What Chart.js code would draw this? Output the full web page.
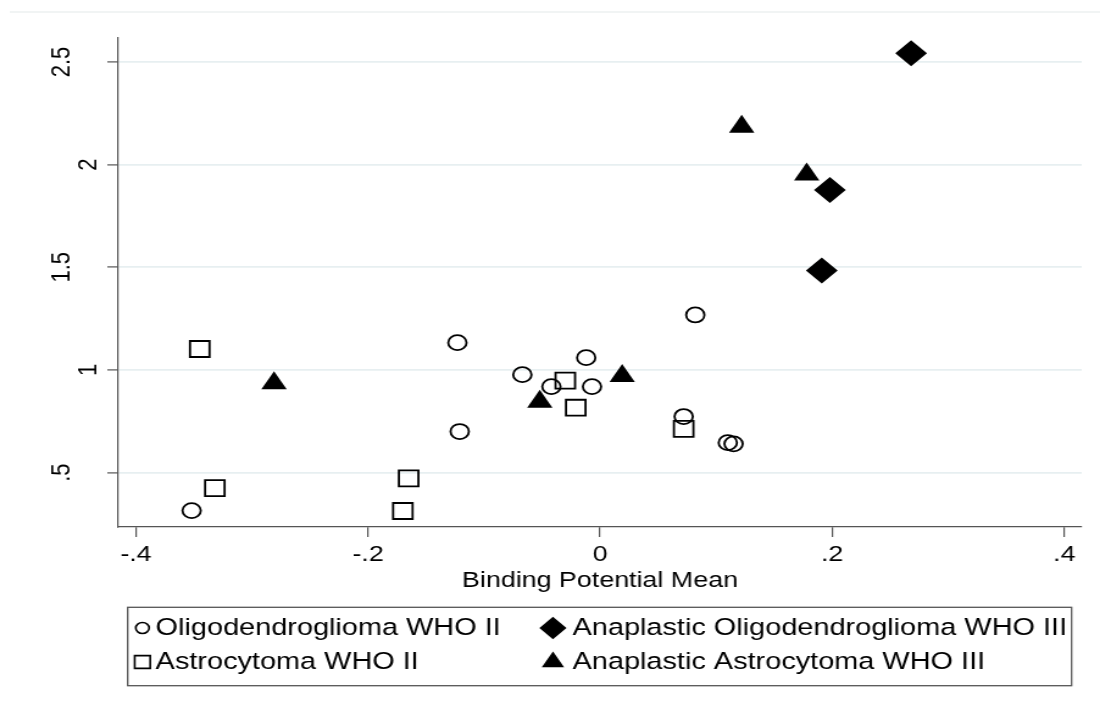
<!DOCTYPE html>
<html>
<head>
<meta charset="utf-8">
<script src="https://cdn.jsdelivr.net/npm/chart.js@4.4.0/dist/chart.umd.min.js"></script>
<style>
  html, body { margin: 0; padding: 0; background: #fff; }
</style>
</head>
<body>
<!-- the canvas is drawn 902 wide and widened to 1100 by css, like the stretched original -->
<canvas id="plot" width="902" height="714" style="width:1100px;height:714px"></canvas>
<script>
// values
const oligoX = [-0.352, -0.123, -0.121, -0.067, -0.042, -0.012, -0.007, 0.072, 0.082, 0.110, 0.115];
const oligoY = [0.315, 1.133, 0.700, 0.977, 0.919, 1.060, 0.919, 0.773, 1.268, 0.646, 0.640];

const anaOligoX = [0.268, 0.198, 0.191];
const anaOligoY = [2.543, 1.877, 1.484];

const astroX = [-0.345, -0.332, -0.165, -0.170, -0.030, -0.021, 0.072];
const astroY = [1.102, 0.424, 0.472, 0.313, 0.948, 0.816, 0.713];

const anaAstroX = [-0.281, -0.052, 0.019, 0.122, 0.178];
const anaAstroY = [0.935, 0.845, 0.971, 2.185, 1.952];

const seriesNames = ['Oligodendroglioma WHO II', 'Anaplastic Oligodendroglioma WHO III',
                     'Astrocytoma WHO II', 'Anaplastic Astrocytoma WHO III'];

const xTicks = [-0.4, -0.2, 0, 0.2, 0.4];
const xTickLabels = ['-.4', '-.2', '0', '.2', '.4'];
const yTicks = [0.5, 1, 1.5, 2, 2.5];
const yTickLabels = ['.5', '1', '1.5', '2', '2.5'];

const xTitle = 'Binding Potential Mean';

const FONT = "'Liberation Sans', Arial, sans-serif";
const AXIS = '#555';

function pts(xs, ys) {
    return xs.map((x, i) => ({ x: x, y: ys[i] }));
}

const datasets = [
    { label: seriesNames[0], data: pts(oligoX, oligoY), pointStyle: 'circle', pointRadius: 7.5,
      backgroundColor: 'rgba(0,0,0,0)', borderColor: '#000', borderWidth: 1.8 },
    { label: seriesNames[1], data: pts(anaOligoX, anaOligoY), pointStyle: 'rectRot', pointRadius: 13,
      backgroundColor: '#000', borderColor: '#000', borderWidth: 0 },
    { label: seriesNames[2], data: pts(astroX, astroY), pointStyle: 'rect', pointRadius: 11.3,
      backgroundColor: 'rgba(0,0,0,0)', borderColor: '#000', borderWidth: 1.8 },
    { label: seriesNames[3], data: pts(anaAstroX, anaAstroY), pointStyle: 'triangle', pointRadius: 12,
      backgroundColor: '#000', borderColor: '#000', borderWidth: 0 }
];

// legend markers (smaller than plot markers)
const legendMarks = [
    { pointStyle: 'circle', radius: 5.5, fill: false },
    { pointStyle: 'rectRot', radius: 10, fill: true },
    { pointStyle: 'rect', radius: 9, fill: false },
    { pointStyle: 'triangle', radius: 9, fill: true }
];

const stataExtras = {
    id: 'stataExtras',
    afterDraw(chart) {
        const ctx = chart.ctx;
        const yScale = chart.scales.y;
        ctx.save();

        // faint outer frame line at the top
        ctx.strokeStyle = '#edf1f1';
        ctx.lineWidth = 1.5;
        ctx.beginPath();
        ctx.moveTo(8, 12);
        ctx.lineTo(902, 12);
        ctx.stroke();

        // y tick labels, turned on their side
        ctx.fillStyle = '#000';
        ctx.font = '22px ' + FONT;
        ctx.textAlign = 'center';
        ctx.textBaseline = 'alphabetic';
        yTicks.forEach((v, i) => {
            const label = yTickLabels[i];
            const y = yScale.getPixelForValue(v);
            const x = label.indexOf('.') >= 0 ? 57 : 79;
            ctx.save();
            ctx.translate(x, y);
            ctx.rotate(-Math.PI / 2);
            ctx.fillText(label, 0, 0);
            ctx.restore();
        });

        // legend box
        const bx = 104.7, by = 607.3, bw = 774, bh = 78.4;
        ctx.strokeStyle = AXIS;
        ctx.lineWidth = 1.3;
        ctx.strokeRect(bx, by, bw, bh);

        const colMark = [116.8, 453.4];
        const colText = [127.6, 469.5];
        const rowY = [628, 662];
        ctx.font = '23.7px ' + FONT;
        ctx.textAlign = 'left';
        ctx.textBaseline = 'middle';
        seriesNames.forEach((name, i) => {
            const col = i % 2, row = Math.floor(i / 2);
            const m = legendMarks[i];
            ctx.fillStyle = m.fill ? '#000' : 'rgba(0,0,0,0)';
            ctx.strokeStyle = '#000';
            ctx.lineWidth = m.fill ? 0 : 1.6;
            Chart.helpers.drawPoint(ctx, { pointStyle: m.pointStyle, radius: m.radius, borderWidth: ctx.lineWidth },
                colMark[col], rowY[row]);
            ctx.fillStyle = '#000';
            ctx.fillText(name, colText[col], rowY[row]);
        });

        ctx.restore();
    }
};

const ctx = document.getElementById('plot').getContext('2d');

new Chart(ctx, {
    type: 'scatter',
    data: { datasets: datasets },
    options: {
        responsive: false,
        animation: false,
        devicePixelRatio: 1,
        layout: { padding: { top: 38, right: 15, bottom: 120, left: 0 } },
        plugins: {
            legend: { display: false },
            tooltip: { enabled: false }
        },
        scales: {
            x: {
                type: 'linear',
                min: -0.4152,
                max: 0.415,
                afterBuildTicks: function (scale) {
                    scale.ticks = xTicks.map(v => ({ value: v }));
                },
                afterFit: function (scale) {
                    scale.height = 67;
                },
                ticks: {
                    padding: 5,
                    color: '#000',
                    font: { size: 22, family: FONT },
                    callback: function (value) {
                        const i = xTicks.indexOf(value);
                        return i >= 0 ? xTickLabels[i] : '';
                    }
                },
                grid: { drawOnChartArea: false, drawTicks: true, tickLength: 10, tickColor: AXIS, lineWidth: 1.2 },
                border: { display: true, color: AXIS, width: 1.2 },
                title: { display: true, text: xTitle, color: '#000', padding: 0, font: { size: 22, family: FONT } }
            },
            y: {
                type: 'linear',
                min: 0.235,
                max: 2.617,
                afterBuildTicks: function (scale) {
                    scale.ticks = yTicks.map(v => ({ value: v }));
                },
                afterFit: function (scale) {
                    scale.width = 97;
                },
                ticks: { display: false },
                grid: { color: '#e7eff1', lineWidth: 1.8, tickLength: 9, tickColor: AXIS, tickWidth: 1.2 },
                border: { display: true, color: AXIS, width: 1.2 }
            }
        }
    },
    plugins: [stataExtras]
});
</script>
</body>
</html>
